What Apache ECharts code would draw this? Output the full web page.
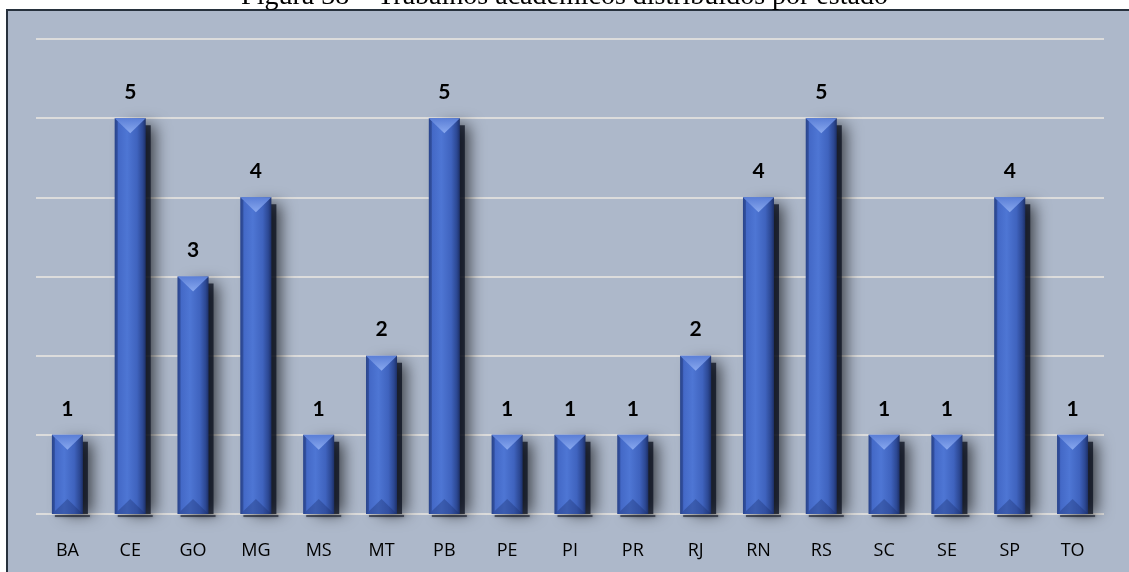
<!DOCTYPE html>
<html>
<head>
<meta charset="utf-8">
<script src="https://cdn.jsdelivr.net/npm/echarts@6/dist/echarts.min.js"></script>
<style>
  html, body { margin: 0; padding: 0; background: #ffffff; }
  #chart { width: 1129px; height: 572px; }
</style>
</head>
<body>
<div id="chart"></div>
<script>
// Academic works per Brazilian state
const titleText = 'Figura 38 – Trabalhos acadêmicos distribuídos por estado';
const states = ['BA', 'CE', 'GO', 'MG', 'MS', 'MT', 'PB', 'PE', 'PI', 'PR', 'RJ', 'RN', 'RS', 'SC', 'SE', 'SP', 'TO'];
const counts = [1, 5, 3, 4, 1, 2, 5, 1, 1, 1, 2, 4, 5, 1, 1, 4, 1];
const yTicks = [0, 1, 2, 3, 4, 5, 6];

const BAR_W = 31;
const BEVEL = 15;

const bodyFill = new echarts.graphic.LinearGradient(0, 0, 1, 0, [
  { offset: 0.00, color: '#30509f' },
  { offset: 0.10, color: '#4368c6' },
  { offset: 0.40, color: '#4e76d4' },
  { offset: 0.72, color: '#3f63be' },
  { offset: 0.90, color: '#2c4893' },
  { offset: 1.00, color: '#1d3068' }
]);
const topFill = new echarts.graphic.LinearGradient(0, 0, 0, 1, [
  { offset: 0, color: '#5a7ed6' },
  { offset: 1, color: '#88a8ef' }
]);

function renderBar(params, api) {
  const idx = api.value(0);
  const v = api.value(1);
  const top = api.coord([idx, v]);
  const base = api.coord([idx, 0]);
  const x = top[0] - BAR_W / 2;
  const yT = top[1];
  const yB = base[1];
  const h = yB - yT;
  return {
    type: 'group',
    children: [
      // soft drop shadow to the right
      {
        type: 'rect',
        shape: { x: x + 9, y: yT + 7, width: BAR_W - 4, height: h - 7 },
        style: {
          fill: 'rgba(10,15,30,0.75)',
          shadowBlur: 16,
          shadowOffsetX: 4,
          shadowColor: 'rgba(0,0,0,0.9)'
        }
      },
      // thin shadow under the base
      {
        type: 'rect',
        shape: { x: x + 3, y: yB + 1, width: BAR_W + 4, height: 2 },
        style: { fill: 'rgba(20,25,40,0.6)', shadowBlur: 3, shadowColor: 'rgba(0,0,0,0.5)' }
      },
      // bar body
      {
        type: 'rect',
        shape: { x: x, y: yT, width: BAR_W, height: h },
        style: { fill: bodyFill }
      },
      // left bevel strip
      {
        type: 'polygon',
        shape: { points: [[x, yT], [x + 3, yT + 3], [x + 3, yB - 3], [x, yB]] },
        style: { fill: 'rgba(30,50,110,0.4)' }
      },
      // top bevel
      {
        type: 'polygon',
        shape: { points: [[x, yT], [x + BAR_W, yT], [top[0], yT + BEVEL]] },
        style: { fill: topFill }
      },
      // bottom bevel
      {
        type: 'polygon',
        shape: { points: [[x, yB], [top[0], yB - BEVEL], [x + BAR_W, yB]] },
        style: { fill: 'rgba(25,45,110,0.35)' }
      },
      // value label
      {
        type: 'text',
        style: {
          text: String(v),
          x: top[0],
          y: yT - 26,
          align: 'center',
          verticalAlign: 'middle',
          font: 'bold 21px Lato, "Open Sans", sans-serif',
          fill: '#000000'
        }
      }
    ]
  };
}

const chart = echarts.init(document.getElementById('chart'), null, { renderer: 'canvas' });
chart.setOption({
  animation: false,
  title: {
    text: titleText,
    left: 'center',
    top: -22,
    textStyle: {
      fontFamily: '"Liberation Serif", "DejaVu Serif", serif',
      fontSize: 28,
      fontWeight: 'normal',
      color: '#000000'
    }
  },
  graphic: [
    {
      type: 'rect',
      z: -10,
      silent: true,
      shape: { x: 7, y: 10, width: 1140, height: 580 },
      style: { fill: '#adb8ca', stroke: '#27313d', lineWidth: 2 }
    }
  ],
  grid: { left: 36, right: 25, top: 39, bottom: 58 },
  xAxis: {
    type: 'category',
    data: states,
    axisLine: { show: false },
    axisTick: { show: false },
    axisLabel: {
      margin: 28,
      fontFamily: '"Open Sans", Lato, sans-serif',
      fontSize: 18,
      color: '#000000'
    }
  },
  yAxis: {
    type: 'value',
    min: yTicks[0],
    max: yTicks[yTicks.length - 1],
    interval: 1,
    axisLine: { show: false },
    axisTick: { show: false },
    axisLabel: { show: false },
    splitLine: { lineStyle: { color: '#dcdcdc', width: 2 } }
  },
  series: [
    {
      type: 'custom',
      renderItem: renderBar,
      data: counts.map((c, i) => [i, c]),
      encode: { x: 0, y: 1 },
      z: 3
    }
  ]
});
</script>
</body>
</html>
